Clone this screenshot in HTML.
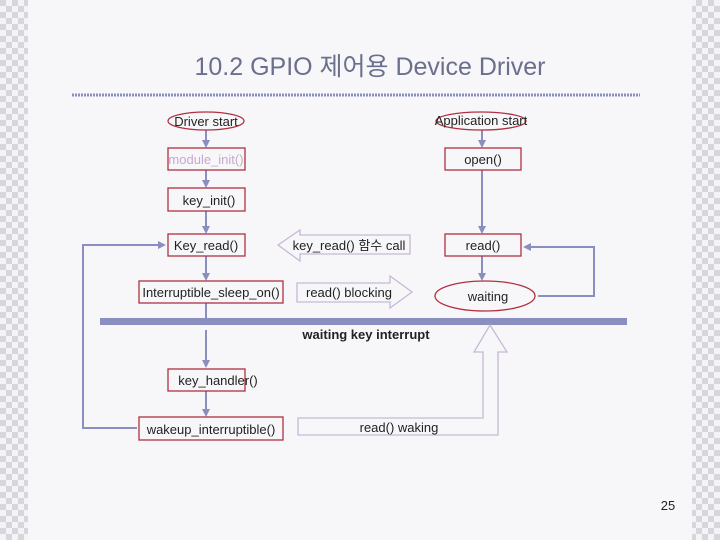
<!DOCTYPE html>
<html><head><meta charset="utf-8"><style>
body{margin:0;background:#f7f7f9}
svg{display:block}
text{font-family:"Liberation Sans","Noto Sans CJK KR",sans-serif;font-size:13px;fill:#222}
</style></head><body>
<svg width="720" height="540" xmlns="http://www.w3.org/2000/svg">
<defs>
<pattern id="ck" width="12" height="12" patternUnits="userSpaceOnUse">
<rect width="12" height="12" fill="#f4f4f6"/><rect width="6" height="6" fill="#d6d6dc"/><rect x="6" y="6" width="6" height="6" fill="#d6d6dc"/></pattern>
<marker id="a" markerWidth="8" markerHeight="8" refX="6" refY="4" orient="auto" markerUnits="userSpaceOnUse"><path d="M0,0 L8,4 L0,8 Z" fill="#8a8fc0"/></marker>
</defs>
<rect width="720" height="540" fill="#f7f7f9"/>
<rect x="0" y="0" width="28" height="540" fill="url(#ck)"/>
<rect x="692" y="0" width="28" height="540" fill="url(#ck)"/>
<text x="370" y="75" text-anchor="middle" style="font-size:25px;fill:#6b6f8e">10.2 GPIO 제어용 Device Driver</text>
<line x1="72" y1="95" x2="640" y2="95" stroke="#8a8fc0" stroke-width="3" stroke-dasharray="2,1"/>
<g stroke="#8a8fc0" stroke-width="2" fill="none">
<line x1="206" y1="130" x2="206" y2="146" marker-end="url(#a)"/>
<line x1="206" y1="170" x2="206" y2="186" marker-end="url(#a)"/>
<line x1="206" y1="211" x2="206" y2="232" marker-end="url(#a)"/>
<line x1="206" y1="256" x2="206" y2="279" marker-end="url(#a)"/>
<line x1="206" y1="303" x2="206" y2="320"/>
<line x1="206" y1="330" x2="206" y2="366" marker-end="url(#a)"/>
<line x1="206" y1="391" x2="206" y2="415" marker-end="url(#a)"/>
<polyline points="137,428 83,428 83,245 164,245" marker-end="url(#a)"/>
<line x1="482" y1="130" x2="482" y2="146" marker-end="url(#a)"/>
<line x1="482" y1="170" x2="482" y2="232" marker-end="url(#a)"/>
<line x1="482" y1="256" x2="482" y2="279" marker-end="url(#a)"/>
<polyline points="538,296 594,296 594,247 525,247" marker-end="url(#a)"/>
</g>
<rect x="100" y="318" width="527" height="7" fill="#8a8fc0"/>
<g stroke="#c8b8d8" stroke-width="1.3" fill="#f7f7f9">
<polygon points="278,245 300,230 300,235 410,235 410,254 300,254 300,261"/>
<polygon points="297,283 390,283 390,276 412,292 390,308 390,302 297,302"/>
<polygon points="298,418 483,418 483,352 474,352 490,325 507,352 498,352 498,435 298,435"/>
</g>
<g stroke="#b03040" stroke-width="1.3" fill="#f7f7f9">
<ellipse cx="206" cy="121" rx="38" ry="9"/>
<ellipse cx="481" cy="121" rx="45" ry="9"/>
<ellipse cx="485" cy="296" rx="50" ry="15"/>
<rect x="168" y="148" width="77" height="22"/>
<rect x="168" y="188" width="77" height="23"/>
<rect x="168" y="234" width="77" height="22"/>
<rect x="139" y="281" width="144" height="22"/>
<rect x="445" y="148" width="76" height="22"/>
<rect x="445" y="234" width="76" height="22"/>
<rect x="168" y="369" width="77" height="22"/>
<rect x="139" y="417" width="144" height="23"/>
</g>
<text x="206" y="126" text-anchor="middle">Driver start</text>
<text x="481" y="125" text-anchor="middle">Application start</text>
<text x="206" y="164" text-anchor="middle" style="fill:#c8a8cc">module_init()</text>
<text x="209" y="205" text-anchor="middle">key_init()</text>
<text x="206" y="250" text-anchor="middle">Key_read()</text>
<text x="211" y="297" text-anchor="middle">Interruptible_sleep_on()</text>
<text x="483" y="164" text-anchor="middle">open()</text>
<text x="483" y="250" text-anchor="middle">read()</text>
<text x="488" y="301" text-anchor="middle">waiting</text>
<text x="349" y="250" text-anchor="middle">key_read() 함수 call</text>
<text x="349" y="297" text-anchor="middle">read() blocking</text>
<text x="366" y="339" text-anchor="middle" style="font-weight:bold">waiting key interrupt</text>
<text x="218" y="385" text-anchor="middle">key_handler()</text>
<text x="211" y="434" text-anchor="middle">wakeup_interruptible()</text>
<text x="399" y="432" text-anchor="middle">read()  waking</text>
<text x="668" y="510" text-anchor="middle">25</text>
</svg>
</body></html>
